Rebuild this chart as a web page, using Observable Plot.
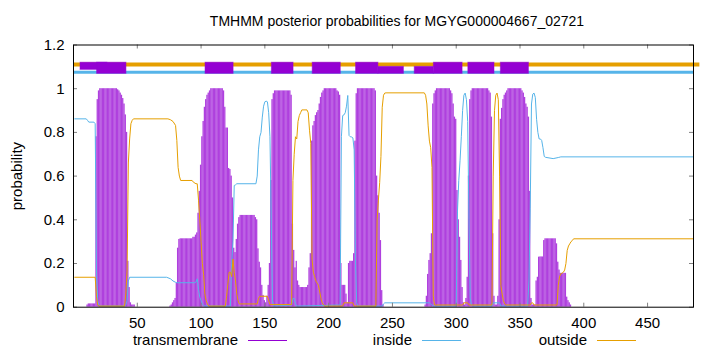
<!DOCTYPE html>
<html>
<head>
<meta charset="utf-8">
<script src="https://cdn.jsdelivr.net/npm/d3@7"></script>
<script src="https://cdn.jsdelivr.net/npm/@observablehq/plot@0.6"></script>
<style>
  body { margin: 0; background: #fff; }
  #wrap { position: relative; width: 720px; height: 352px; overflow: hidden;
          font-family: "Liberation Sans", Arial, sans-serif; color: #000; }
  #title { position: absolute; top: 12px; left: 397px; transform: translateX(-50%);
           font-size: 14px; line-height: 18px; white-space: nowrap; }
  #chart { position: absolute; top: 34px; left: 0; }
  .lg-text { position: absolute; font-size: 15px; line-height: 18px; white-space: nowrap; text-align: right; }
  .lg-line { position: absolute; height: 0; border-top: 1px solid; }
</style>
</head>
<body>
<div id="wrap">
  <div id="title"></div>
  <div id="chart"></div>
  <div id="legend"></div>
</div>
<script>
// ---------------- data ----------------
const titleText = "TMHMM posterior probabilities for MGYG000004667_02721";
const seqLength = 486;
const xTicks = [50, 100, 150, 200, 250, 300, 350, 400, 450];
const yTicks = [0, 0.2, 0.4, 0.6, 0.8, 1, 1.2];
const seriesNames = ["transmembrane", "inside", "outside"];
const seriesColors = ["#9400d3", "#56b4e9", "#e69f00"];

// transmembrane posterior, one value per residue starting at residue tmFrom
const tmFrom = 11;
const tmProb = [
  0.01,0.015,0.015,0.015,0.015,0.015,0.015,0.78,0.95,0.99,
  1,1,1,1,1,1,1,1,1,1,
  1,1,1,1,0.995,0.99,0.98,0.97,0.955,0.93,
  0.88,0.8,0.21,0.09,0.02,0.01,0.01,0.01,0,0,
  0,0,0,0,0,0,0,0,0,0,
  0,0,0,0,0,0,0,0,0,0,
  0,0,0,0,0,0.005,0.01,0.02,0.03,0.04,
  0.11,0.27,0.31,0.313,0.313,0.313,0.313,0.313,0.313,0.313,
  0.313,0.313,0.313,0.32,0.32,0.33,0.34,0.43,0.53,0.65,
  0.78,0.85,0.915,0.95,0.97,0.98,0.99,1,1,1,
  1,1,1,1,1,1,1,0.99,0.915,0.82,
  0.82,0.635,0.63,0.6,0.5,0.27,0.25,0.31,0.38,0.41,
  0.42,0.42,0.42,0.42,0.42,0.42,0.42,0.42,0.42,0.42,
  0.42,0.42,0.41,0.4,0.267,0.206,0.18,0.1,0.054,0.03,
  0.02,0.05,0.1,0.2,0.58,0.95,0.977,0.99,0.99,0.99,
  0.99,0.99,0.99,0.99,0.99,0.99,0.99,0.99,0.99,0.99,
  0.97,0.38,0.26,0.18,0.21,0.12,0.1,0.09,0.09,0.09,
  0.09,0.09,0.09,0.1,0.18,0.245,0.76,0.83,0.85,0.877,
  0.89,0.9,0.93,0.96,0.98,0.99,1,1,1,1,
  1,1,1,1,1,1,0.99,0.985,0.97,0.2,
  0.1,0.1,0.1,0.06,0.02,0.2,0.21,0.21,0.21,0.245,
  0.76,0.977,1,1,1,1,1,1,1,1,
  1,1,1,1,1,1,0.99,0.6,0.51,0.43,
  0.305,0.076,0.01,0,0,0,0,0,0,0,
  0,0,0,0,0,0,0,0,0,0,
  0,0,0,0,0,0,0,0,0,0,
  0,0,0,0,0,0.01,0.05,0.15,0.214,0.245,
  0.336,0.93,0.977,0.99,1,1,1,1,1,1,
  1,1,1,1,1,0.99,0.977,0.93,0.87,0.86,
  0.534,0.4,0.32,0.214,0.09,0.02,0.01,0.04,0.137,0.6,
  0.95,0.99,1,1,1,1,1,1,1,1,
  1,1,1,1,1,0.99,0.98,0.87,0.336,0.05,
  0.01,0.01,0.05,0.4,0.86,0.91,0.95,0.97,0.98,0.99,
  1,1,1,1,1,1,1,1,1,1,
  1,0.99,0.98,0.96,0.93,0.915,0.87,0.53,0.04,0.01,
  0.01,0.01,0.12,0.137,0.229,0.23,0.23,0.23,0.305,0.313,
  0.313,0.313,0.313,0.313,0.313,0.313,0.313,0.313,0.29,0.206,
  0.17,0.155,0.155,0.155,0.155,0.155,0.046,0.03,0.02,0.01
];

// inside posterior (residue, probability)
const insidePts = [
  [1,0.862],[10,0.862],[11,0.855],[12,0.847],[16,0.847],[17,0.84],[18,0.17],[19,0.03],[20,0.005],
  [40,0.005],[41,0.01],[42,0.03],[43,0.12],[44,0.137],[73,0.137],[76,0.13],[78,0.12],[80,0.114],
  [81,0.112],[95,0.112],[96,0.115],[97,0.13],[98,0.08],[99,0.046],[100,0.03],[101,0.015],[102,0.008],
  [103,0.005],[123,0.005],[124,0.2],[125,0.3],[126,0.557],[127,0.56],[128,0.565],[143,0.565],
  [144,0.6],[145,0.72],[146,0.78],[147,0.8],[148,0.87],[149,0.92],[150,0.94],[151,0.943],[152,0.94],
  [153,0.89],[154,0.78],[155,0.4],[156,0.03],[157,0.005],[171,0.01],[172,0.04],[173,0.04],[174,0.015],
  [175,0.005],[209,0.01],[210,0.78],[211,0.877],[212,0.88],[213,0.89],[214,0.92],[215,0.969],
  [216,0.786],[217,0.78],[218,0.779],[219,0.775],[220,0.72],[221,0.22],[222,0.02],[223,0.005],
  [242,0.005],[243,0.015],[244,0.02],[279,0.02],[280,0.015],[281,0.01],[282,0.005],[300,0.005],
  [301,0.44],[302,0.58],[303,0.67],[304,0.78],[305,0.9],[306,0.97],[307,0.98],[308,0.95],[309,0.85],
  [310,0.4],[311,0.04],[312,0.01],[313,0.005],[328,0.005],[329,0.02],[334,0.02],[335,0.005],
  [356,0.005],[357,0.12],[358,0.45],[359,0.93],[360,0.975],[361,0.98],[362,0.96],[363,0.86],
  [364,0.8],[365,0.77],[366,0.77],[367,0.763],[368,0.73],[369,0.69],[370,0.686],[376,0.68],
  [380,0.685],[382,0.688],[486,0.688]
];

// outside posterior (residue, probability)
const outsidePts = [
  [1,0.137],[17,0.137],[18,0.05],[19,0.01],[20,0.005],[40,0.005],[41,0.06],[42,0.17],[43,0.66],
  [44,0.77],[45,0.84],[46,0.855],[47,0.862],[74,0.862],[76,0.858],[78,0.85],[80,0.832],[81,0.763],
  [82,0.64],[83,0.6],[84,0.58],[93,0.58],[94,0.572],[96,0.565],[97,0.565],[98,0.49],[99,0.4],
  [100,0.3],[101,0.2],[102,0.15],[103,0.06],[104,0.03],[105,0.015],[106,0.005],[119,0.005],
  [120,0.05],[121,0.107],[122,0.16],[123,0.16],[124,0.14],[125,0.22],[126,0.16],[127,0.12],
  [128,0.06],[129,0.03],[130,0.015],[144,0.015],[145,0.04],[146,0.05],[152,0.05],[153,0.03],
  [154,0.012],[171,0.012],[172,0.58],[173,0.7],[174,0.78],[175,0.77],[176,0.85],[177,0.877],
  [178,0.89],[179,0.903],[183,0.903],[184,0.89],[185,0.81],[186,0.75],[187,0.22],[188,0.16],
  [189,0.14],[190,0.12],[191,0.11],[192,0.1],[193,0.07],[194,0.04],[195,0.02],[196,0.01],[197,0.005],
  [211,0.005],[212,0.02],[219,0.02],[220,0.005],[237,0.005],[238,0.4],[239,0.49],[240,0.57],
  [241,0.69],[242,0.915],[243,0.97],[244,0.98],[245,0.981],[275,0.981],[276,0.97],[277,0.93],
  [278,0.83],[279,0.76],[280,0.73],[281,0.64],[282,0.05],[283,0.01],[305,0.01],[306,0.02],
  [309,0.02],[310,0.01],[328,0.01],[329,0.6],[330,0.9],[331,0.97],[332,0.98],[333,0.95],[334,0.6],
  [335,0.1],[336,0.06],[337,0.03],[338,0.015],[339,0.01],[358,0.01],[359,0.02],[360,0.02],
  [361,0.01],[379,0.01],[380,0.1],[381,0.14],[382,0.153],[383,0.156],[384,0.16],[385,0.17],
  [386,0.2],[387,0.26],[388,0.28],[389,0.29],[390,0.3],[391,0.305],[392,0.313],[486,0.313]
];

// predicted topology strip on top
const topoOutsideLevel = 1.111;
const topoInsideLevel = 1.075;
const topoOutsideEnd = 491;
const helixStart = [18.5, 103.5, 155.5, 187.5, 221.5, 282.5, 309.5, 335];
const helixEnd   = [41.5, 125.5, 172.5, 209.5, 239, 305, 330, 357];
const upperStart = [5.5];
const upperEnd   = [26.5];
const lowerStart = [239, 267.5];
const lowerEnd   = [259, 282.5];
const boxTop = 1.119, boxBottom = 1.068, upperBottom = 1.086, lowerTop = 1.10;

// ---------------- layout ----------------
const W = 720, H = 296;
const mTop = 10.5, mBottom = 23.3, mLeft = 73, mRight = 27;
const plotH = H - mTop - mBottom, plotW = W - mLeft - mRight;
const yMax = 1.2;
const tickPx = 4;
const tickY = tickPx * yMax / plotH;
const tickX = tickPx * seqLength / plotW;

const tmData = tmProb.map((p, i) => ({r: tmFrom + i, p}));
const inside = insidePts.map(([r, p]) => ({r, p}));
const outside = outsidePts.map(([r, p]) => ({r, p}));
const helices = helixStart.map((s, i) => ({s, e: helixEnd[i]}));
const uppers = upperStart.map((s, i) => ({s, e: upperEnd[i]}));
const lowers = lowerStart.map((s, i) => ({s, e: lowerEnd[i]}));

const chart = Plot.plot({
  width: W, height: H,
  marginTop: mTop, marginBottom: mBottom, marginLeft: mLeft, marginRight: mRight,
  style: {fontFamily: '"Liberation Sans", Arial, sans-serif', fontSize: "15px", background: "#fff", color: "#000"},
  x: {domain: [0, seqLength]},
  y: {domain: [0, yMax]},
  marks: [
    Plot.rect(tmData, {x1: d => d.r - 0.5, x2: d => d.r + 0.5, y1: 0, y2: "p",
      fill: seriesColors[0], fillOpacity: 0.75}),
    Plot.ruleY([topoOutsideLevel], {y: d => d, x1: 0, x2: topoOutsideEnd, stroke: seriesColors[2], strokeWidth: 4}),
    Plot.ruleY([topoInsideLevel], {y: d => d, x1: 0, x2: seqLength, stroke: seriesColors[1], strokeWidth: 3}),
    Plot.rect(uppers, {x1: "s", x2: "e", y1: upperBottom, y2: boxTop, fill: seriesColors[0], stroke: seriesColors[0], strokeOpacity: 0.5}),
    Plot.rect(lowers, {x1: "s", x2: "e", y1: boxBottom, y2: lowerTop, fill: seriesColors[0], stroke: seriesColors[0], strokeOpacity: 0.5}),
    Plot.rect(helices, {x1: "s", x2: "e", y1: boxBottom, y2: boxTop, fill: seriesColors[0], stroke: seriesColors[0], strokeOpacity: 0.5}),
    Plot.line(inside, {x: "r", y: "p", stroke: seriesColors[1], strokeWidth: 1}),
    Plot.line(outside, {x: "r", y: "p", stroke: seriesColors[2], strokeWidth: 1}),
    Plot.ruleX(xTicks, {x: d => d, y1: 0, y2: tickY, stroke: "#808080"}),
    Plot.ruleX(xTicks, {x: d => d, y1: yMax, y2: yMax - tickY, stroke: "#808080"}),
    Plot.ruleY(yTicks, {y: d => d, x1: 0, x2: tickX, stroke: "#808080"}),
    Plot.ruleY(yTicks, {y: d => d, x1: seqLength, x2: seqLength - tickX, stroke: "#808080"}),
    Plot.axisX({ticks: xTicks, tickSize: 0, tickPadding: 10, label: null, tickFormat: d => String(d)}),
    Plot.axisY({ticks: yTicks, tickSize: 0, tickPadding: 9, label: null, tickFormat: d => String(d)}),
    Plot.text(["probability"], {frameAnchor: "left", dx: -56, rotate: -90, text: d => d, textAnchor: "middle", fontSize: 15}),
    Plot.frame({stroke: "#000", strokeWidth: 1})
  ]
});
document.getElementById("chart").appendChild(chart);
document.getElementById("title").textContent = titleText;

// legend (key) below the plot
const legendTextRight = [238, 412, 587];
const legendY = 340;
const lg = document.getElementById("legend");
seriesNames.forEach((name, i) => {
  const t = document.createElement("div");
  t.className = "lg-text";
  t.textContent = name;
  t.style.right = (W - legendTextRight[i]) + "px";
  t.style.top = (legendY - 9) + "px";
  lg.appendChild(t);
  const l = document.createElement("div");
  l.className = "lg-line";
  l.style.left = (legendTextRight[i] + 10) + "px";
  l.style.width = "39px";
  l.style.top = legendY + "px";
  l.style.borderTopColor = seriesColors[i];
  lg.appendChild(l);
});
</script>
</body>
</html>
